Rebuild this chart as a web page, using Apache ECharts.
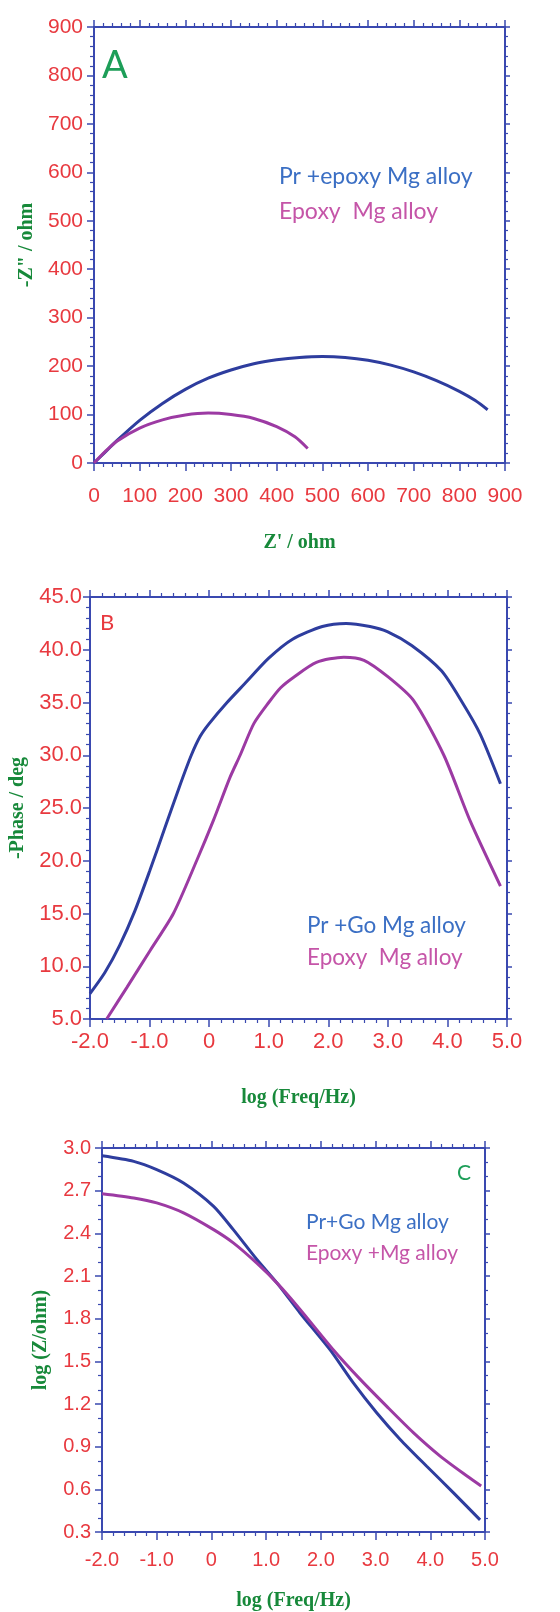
<!DOCTYPE html>
<html>
<head>
<meta charset="utf-8">
<script src="https://cdn.jsdelivr.net/npm/echarts@6/dist/echarts.min.js"></script>
<style>
html,body{margin:0;padding:0;background:#fff;}
#chart{width:560px;height:1612px;}
</style>
</head>
<body>
<div id="chart"></div>
<script>
// ---------- Panel A: Nyquist ----------
const aBlueZre = [0, 25, 50, 100, 150, 200, 250, 300, 350, 400, 450, 500, 550, 600, 650, 700, 750, 800, 835, 862];
const aBlueZim = [0, 23, 46, 88, 123, 152, 175, 192, 205, 213, 218, 220, 218, 212, 202, 188, 170, 148, 129, 110];
const aPurpleZre = [0, 25, 50, 100, 150, 200, 250, 300, 350, 400, 440, 468];
const aPurpleZim = [0, 24, 45, 72, 89, 99, 103, 100, 92, 75, 54, 30];
const aNames = ['Pr +epoxy Mg alloy', 'Epoxy  Mg alloy'];

// ---------- Panel B: Bode phase ----------
const bBlueLogF = [-2.0, -1.75, -1.5, -1.25, -1.0, -0.75, -0.5, -0.3, -0.15, 0.0, 0.3, 0.6, 1.0, 1.4, 1.9, 2.3, 2.7, 3.0, 3.4, 3.9, 4.25, 4.55, 4.89];
const bBluePhase = [7.4, 9.4, 12.0, 15.2, 19.0, 23.0, 27.0, 30.0, 31.8, 33.0, 35.0, 36.8, 39.2, 41.0, 42.2, 42.5, 42.2, 41.7, 40.4, 38.0, 35.0, 32.0, 27.3];
const bPurpleLogF = [-1.72, -1.38, -0.99, -0.6, -0.21, 0.07, 0.35, 0.52, 0.75, 1.0, 1.2, 1.42, 1.8, 2.26, 2.6, 3.01, 3.43, 3.94, 4.38, 4.89];
const bPurplePhase = [5.0, 8.0, 11.5, 15.0, 20.0, 23.8, 27.9, 30.0, 33.0, 35.0, 36.4, 37.4, 38.8, 39.3, 39.0, 37.4, 35.2, 30.0, 23.8, 17.6];
const bNames = ['Pr +Go Mg alloy', 'Epoxy  Mg alloy'];

// ---------- Panel C: Bode modulus ----------
const cBlueLogF = [-2.0, -1.42, -1.0, -0.51, 0.04, 0.4, 0.83, 1.2, 1.62, 2.17, 2.59, 3.02, 3.45, 3.93, 4.42, 4.91];
const cBlueLogZ = [2.945, 2.906, 2.848, 2.754, 2.59, 2.426, 2.216, 2.05, 1.84, 1.58, 1.35, 1.139, 0.951, 0.764, 0.577, 0.385];
const cPurpleLogF = [-2.0, -1.42, -1.0, -0.51, 0.04, 0.4, 0.83, 1.2, 1.62, 2.23, 2.72, 3.2, 3.69, 4.18, 4.67, 4.93];
const cPurpleLogZ = [2.679, 2.649, 2.614, 2.544, 2.426, 2.333, 2.19, 2.05, 1.865, 1.58, 1.373, 1.185, 0.999, 0.834, 0.694, 0.624];
const cNames = ['Pr+Go Mg alloy', 'Epoxy +Mg alloy'];

const zip = (xs, ys) => xs.map((x, i) => [x, ys[i]]);

const FRAME = '#3a49b0';
const RED = '#e8393f';
const GREEN = '#17893a';
const BLUE_LINE = '#2e3d9e';
const PURPLE_LINE = '#9c3aa3';
const BLUE_TXT = '#3b6fc4';
const PINK_TXT = '#c555a8';
const NARROW = "'Liberation Sans Narrow', 'Arial Narrow', 'Liberation Sans', sans-serif";
const SERIF = "'Liberation Serif', 'DejaVu Serif', serif";
const CAL = "Lato, 'Open Sans', sans-serif";

function mainX(grid, min, max, interval, fmt, fs, margin, name, nameGap) {
  return {
    type: 'value', gridIndex: grid, position: 'bottom', min, max, interval,
    axisLine: {show: true, onZero: false, lineStyle: {color: FRAME, width: 2}},
    axisTick: {show: true, length: 8, lineStyle: {color: FRAME, width: 1.5}},
    minorTick: {show: true, splitNumber: 5, length: 4, lineStyle: {color: FRAME, width: 1.2}},
    splitLine: {show: false},
    axisLabel: {color: RED, fontFamily: NARROW, fontSize: fs, margin, formatter: fmt},
    name, nameLocation: 'middle', nameGap,
    nameTextStyle: {color: GREEN, fontFamily: SERIF, fontWeight: 'bold', fontSize: 20}
  };
}
function topX(grid, min, max, interval) {
  return {
    type: 'value', gridIndex: grid, position: 'top', min, max, interval,
    axisLine: {show: true, onZero: false, lineStyle: {color: FRAME, width: 2}},
    axisTick: {show: true, length: 7, lineStyle: {color: FRAME, width: 1.5}},
    minorTick: {show: true, splitNumber: 5, length: 4, lineStyle: {color: FRAME, width: 1.2}},
    splitLine: {show: false}, axisLabel: {show: false}
  };
}
function mainY(grid, min, max, interval, fmt, fs, margin, name, nameGap, minorSplit) {
  return {
    type: 'value', gridIndex: grid, position: 'left', min, max, interval,
    axisLine: {show: true, onZero: false, lineStyle: {color: FRAME, width: 2}},
    axisTick: {show: true, length: 7, lineStyle: {color: FRAME, width: 1.5}},
    minorTick: {show: true, splitNumber: minorSplit, length: 4, lineStyle: {color: FRAME, width: 1.2}},
    splitLine: {show: false},
    axisLabel: {color: RED, fontFamily: NARROW, fontSize: fs, margin, formatter: fmt},
    name, nameLocation: 'middle', nameGap, nameRotate: 90,
    nameTextStyle: {color: GREEN, fontFamily: SERIF, fontWeight: 'bold', fontSize: 20}
  };
}
function rightY(grid, min, max, interval, minorSplit) {
  return {
    type: 'value', gridIndex: grid, position: 'right', min, max, interval,
    axisLine: {show: true, onZero: false, lineStyle: {color: FRAME, width: 2}},
    axisTick: {show: true, length: 5, lineStyle: {color: FRAME, width: 1.5}},
    minorTick: {show: true, splitNumber: minorSplit, length: 3, lineStyle: {color: FRAME, width: 1.2}},
    splitLine: {show: false}, axisLabel: {show: false}
  };
}
const f0 = v => String(Math.round(v));
const f1 = v => (Math.abs(v) < 1e-9 ? '0' : v.toFixed(1));
const f1y = v => v.toFixed(1);

function line(name, data, xi, yi, color) {
  return {type: 'line', name, data, xAxisIndex: xi, yAxisIndex: yi, showSymbol: false,
          smooth: 0.25,
          lineStyle: {color, width: 3}, itemStyle: {color}, silent: true, animation: false};
}
function txt(text, x, y, fill, font) {
  return {type: 'text', x, y, silent: true,
          style: {text, fill, font, verticalAlign: 'middle', align: 'left'}};
}

const chart = echarts.init(document.getElementById('chart'), null, {renderer: 'canvas'});
chart.setOption({
  backgroundColor: '#ffffff',
  animation: false,
  grid: [
    {left: 94, top: 27, width: 411, height: 436},
    {left: 90, top: 597, width: 417, height: 422},
    {left: 102, top: 1148, width: 383, height: 385}
  ],
  xAxis: [
    mainX(0, 0, 900, 100, f0, 21, 23, "Z' / ohm", 70),
    topX(0, 0, 900, 100),
    mainX(1, -2, 5, 1, f1, 22, 12, 'log (Freq/Hz)', 69),
    topX(1, -2, 5, 1),
    mainX(2, -2, 5, 1, f1, 20, 18, 'log (Freq/Hz)', 59),
    topX(2, -2, 5, 1)
  ],
  yAxis: [
    mainY(0, 0, 900, 100, f0, 21, 11, '-Z" / ohm', 57, 5),
    rightY(0, 0, 900, 100, 5),
    mainY(1, 5, 45, 5, f1y, 22, 8, '-Phase / deg', 61, 5),
    rightY(1, 5, 45, 5, 5),
    mainY(2, 0.3, 3.0, 0.3, f1y, 20, 11, 'log (Z/ohm)', 51, 3),
    rightY(2, 0.3, 3.0, 0.3, 3)
  ],
  series: [
    line(aNames[0], zip(aBlueZre, aBlueZim), 0, 0, BLUE_LINE),
    line(aNames[1], zip(aPurpleZre, aPurpleZim), 0, 0, PURPLE_LINE),
    line(bNames[0], zip(bBlueLogF, bBluePhase), 2, 2, BLUE_LINE),
    line(bNames[1], zip(bPurpleLogF, bPurplePhase), 2, 2, PURPLE_LINE),
    line(cNames[0], zip(cBlueLogF, cBlueLogZ), 4, 4, BLUE_LINE),
    line(cNames[1], zip(cPurpleLogF, cPurpleLogZ), 4, 4, PURPLE_LINE)
  ],
  graphic: [
    txt('A', 102, 66, '#1d9e58', '38px ' + CAL),
    txt(aNames[0], 279, 177, BLUE_TXT, '23px ' + CAL),
    txt(aNames[1], 279, 212, PINK_TXT, '23px ' + CAL),
    txt('B', 100, 623, '#e8393f', '22px ' + CAL),
    txt(bNames[0], 307, 926, BLUE_TXT, '22.5px ' + CAL),
    txt(bNames[1], 307, 958, PINK_TXT, '22.5px ' + CAL),
    txt('C', 457, 1173, '#1d9e58', '21px ' + CAL),
    txt(cNames[0], 306, 1222, BLUE_TXT, '21px ' + CAL),
    txt(cNames[1], 306, 1253, PINK_TXT, '21px ' + CAL)
  ]
});
</script>
</body>
</html>
